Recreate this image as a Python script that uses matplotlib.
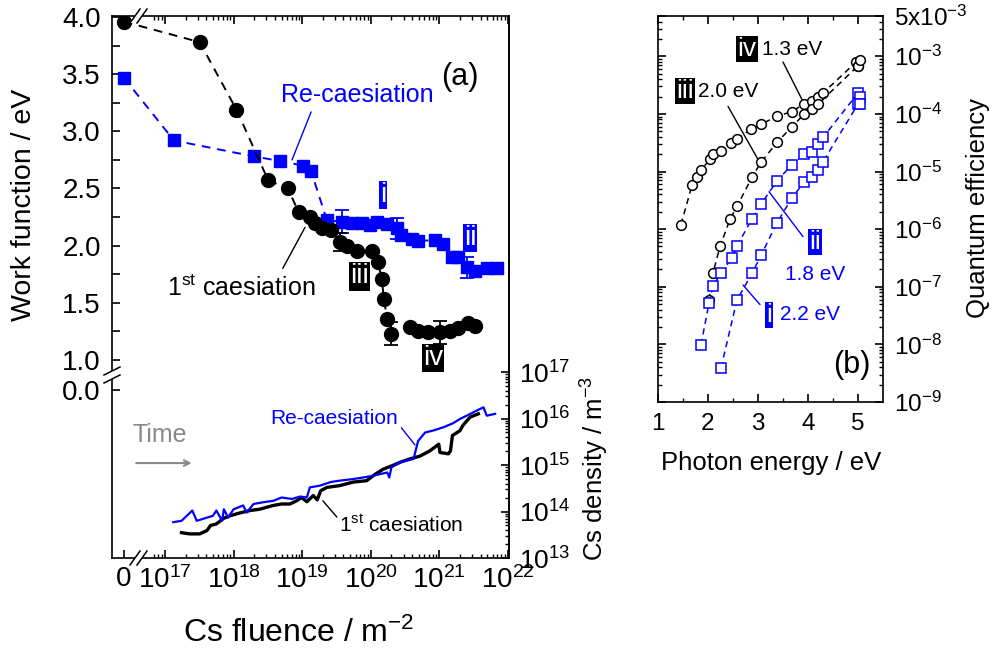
import numpy as np
import matplotlib
matplotlib.use("Agg")
import matplotlib.pyplot as plt
from matplotlib.ticker import FixedLocator, NullFormatter
from matplotlib.lines import Line2D
from matplotlib.patches import Polygon

plt.rcParams['font.family'] = 'Liberation Sans'
plt.rcParams['mathtext.fontset'] = 'custom'
plt.rcParams['mathtext.rm'] = 'Liberation Sans'
plt.rcParams['mathtext.it'] = 'Liberation Sans:italic'
plt.rcParams['mathtext.bf'] = 'Liberation Sans:bold'

BLUE = '#0000ff'
W, H = 992, 654
ZERO = 2.5e16      # where fluence "0" is drawn, left of the axis break
WF_ZERO = 0.737    # where work function "0.0" is drawn, below the axis break

# ---- (a) work function vs Cs fluence ----
fl_first = [0, 3.2e17, 1.1e18, 3.2e18, 6.2e18, 8.9e18, 1.3e19, 1.55e19, 1.95e19, 2.6e19,
            3.5e19, 4.5e19, 6.3e19, 1.05e20, 1.26e20, 1.45e20, 1.55e20, 1.74e20, 2.0e20,
            3.7e20, 4.9e20, 6.8e20, 1.02e21, 1.41e21, 1.86e21, 2.6e21, 3.3e21]
wf_first = [3.96, 3.78, 3.19, 2.57, 2.50, 2.29, 2.25, 2.20, 2.15, 2.14,
            2.03, 2.00, 1.95, 1.95, 1.86, 1.71, 1.53, 1.36, 1.23,
            1.29, 1.25, 1.24, 1.24, 1.25, 1.28, 1.32, 1.30]
err_fl_first = [3.5e19, 2.0e20, 1.02e21]
err_wf_first = [2.03, 1.23, 1.24]
err_first = [0.08, 0.10, 0.10]

fl_re = [0, 1.35e17, 2.0e18, 4.8e18, 1.02e19, 1.35e19, 2.3e19, 3.8e19, 5.4e19, 7.4e19,
         9.8e19, 1.23e20, 1.74e20, 2.4e20, 2.8e20, 4.0e20, 4.9e20, 8.7e20, 1.12e21,
         1.51e21, 1.86e21, 2.5e21, 3.3e21, 4.9e21, 6.9e21]
wf_re = [3.47, 2.92, 2.78, 2.74, 2.70, 2.65, 2.22, 2.21, 2.20, 2.20,
         2.18, 2.21, 2.19, 2.15, 2.09, 2.06, 2.04, 2.05, 2.01,
         1.90, 1.90, 1.81, 1.78, 1.80, 1.80]
err_fl_re = [3.8e19, 2.4e20, 2.5e21]
err_wf_re = [2.21, 2.15, 1.81]
err_re = [0.10, 0.09, 0.09]

# Cs density traces
cs_fl_first = [1.74e17, 2.3e17, 3.2e17, 4.1e17, 4.6e17, 5.6e17, 7.1e17, 8.9e17, 1.23e18, 1.74e18,
               2.4e18, 3.0e18, 3.8e18, 5.0e18, 6.6e18, 8.3e18, 9.8e18, 1.17e19, 1.45e19, 1.66e19,
               1.86e19, 2.3e19, 3.5e19, 5.6e19, 8.7e19, 1.1e20, 1.51e20, 2.1e20, 2.7e20, 3.7e20,
               5.2e20, 7.2e20, 9.8e20, 1.02e21, 1.35e21, 1.45e21, 1.55e21, 2.0e21, 2.2e21, 2.8e21,
               3.7e21]
cs_n_first = [3.5e13, 3.3e13, 3.3e13, 3.9e13, 5.0e13, 5.4e13, 7.1e13, 8.1e13, 9.3e13, 1.05e14,
              1.12e14, 1.23e14, 1.35e14, 1.45e14, 1.45e14, 1.7e14, 2.0e14, 1.62e14, 2.2e14, 1.78e14,
              2.8e14, 3.3e14, 3.6e14, 4.3e14, 4.6e14, 6.0e14, 8.1e14, 9.8e14, 1.15e15, 1.35e15,
              1.55e15, 2.0e15, 2.8e15, 1.86e15, 1.74e15, 2.0e15, 4.3e15, 5.5e15, 7.1e15, 1.07e16,
              1.26e16]

cs_fl_re = [1.32e17, 1.74e17, 2.5e17, 2.9e17, 4.1e17, 5.0e17, 5.6e17, 6.8e17, 7.2e17, 8.3e17,
            1.0e18, 1.38e18, 1.55e18, 1.95e18, 2.7e18, 3.8e18, 5.0e18, 7.1e18, 9.3e18, 1.17e19,
            1.29e19, 1.82e19, 2.6e19, 3.5e19, 5.6e19, 7.8e19, 1.1e20, 1.45e20, 1.74e20, 1.86e20,
            2.0e20, 2.7e20, 4.2e20, 4.9e20, 6.2e20, 8.1e20, 1.15e21, 1.58e21, 2.0e21, 2.5e21,
            3.5e21, 4.4e21, 4.9e21, 6.5e21]
cs_n_re = [5.9e13, 6.3e13, 1.05e14, 6.3e13, 7.4e13, 8.1e13, 1.05e14, 6.3e13, 1.12e14, 7.4e13,
           1.12e14, 1.35e14, 9.5e13, 1.45e14, 1.58e14, 1.7e14, 2.0e14, 1.86e14, 2.1e14, 2.0e14,
           3.3e14, 3.6e14, 4.3e14, 4.6e14, 5.0e14, 5.4e14, 5.9e14, 6.5e14, 6.9e14, 5.4e14,
           8.9e14, 1.15e15, 1.35e15, 3.3e15, 5.0e15, 5.5e15, 6.5e15, 7.9e15, 9.8e15, 1.15e16,
           1.48e16, 1.74e16, 1.15e16, 1.26e16]

# ---- (b) quantum efficiency vs photon energy ----
e_iv = [1.46, 1.68, 1.78, 1.86, 2.04, 2.10, 2.26, 2.46, 2.58, 2.86, 3.06, 3.38, 3.68, 3.92,
        4.08, 4.20, 4.30, 4.96, 5.00]
qe_iv = [1.2e-6, 5.8e-6, 7.9e-6, 1.07e-5, 1.62e-5, 2.0e-5, 2.3e-5, 3.1e-5, 3.7e-5, 5.4e-5,
         6.6e-5, 9.1e-5, 1.1e-4, 1.5e-4, 1.7e-4, 1.95e-4, 2.3e-4, 7.9e-4, 6.9e-4]
e_iii = [2.02, 2.10, 2.24, 2.44, 2.58, 2.88, 3.06, 3.38, 3.68, 3.92, 4.08, 4.20, 5.00, 5.04]
qe_iii = [5.9e-8, 1.74e-7, 5.0e-7, 1.48e-6, 2.5e-6, 7.9e-6, 1.45e-5, 3.2e-5, 6.0e-5, 9.8e-5,
          1.2e-4, 1.48e-4, 6.8e-4, 8.5e-4]
e_ii = [1.86, 2.02, 2.10, 2.26, 2.48, 2.58, 2.88, 3.06, 3.38, 3.68, 3.92, 4.08, 4.20, 4.30,
        5.00, 5.04]
qe_ii = [9.8e-9, 5.2e-8, 1.05e-7, 1.7e-7, 3.2e-7, 5.1e-7, 1.51e-6, 2.7e-6, 6.9e-6, 1.32e-5,
         2.0e-5, 2.2e-5, 2.95e-5, 3.9e-5, 2.3e-4, 2.0e-4]
e_i = [2.26, 2.58, 2.88, 3.06, 3.38, 3.68, 3.92, 4.08, 4.20, 4.30, 5.00, 5.04]
qe_i = [3.9e-9, 5.9e-8, 1.7e-7, 3.5e-7, 1.29e-6, 3.5e-6, 6.5e-6, 7.9e-6, 1.07e-5, 1.48e-5,
        1.48e-4, 1.48e-4]


def sup(base, exp):
    return r'%s$^{\mathregular{%s}}$' % (base, exp)


def fpos(x, y):
    return x / W, 1 - y / H


def tag(axis, x, y, s, color, size=20):
    axis.text(x, y, s, color='white', fontsize=size, ha='center', va='center',
              bbox=dict(boxstyle='square,pad=0.04', fc=color, ec='none'))


def leader(axis, xy1, xy2, color):
    axis.annotate('', xy=xy2, xytext=xy1,
                  arrowprops=dict(arrowstyle='-', color=color, lw=1.0, shrinkA=0, shrinkB=0))


def axis_break(fig, xc, yc, vertical):
    # two parallel slashes with a white gap in the spine between them (pixel coords)
    if vertical:
        c1, c2 = (xc, yc - 4), (xc, yc + 4)
        d = (8, -4)
    else:
        c1, c2 = (xc - 3.5, yc), (xc + 3.5, yc)
        d = (5, -7)
    pts = [(c1[0] - d[0], c1[1] - d[1]), (c1[0] + d[0], c1[1] + d[1]),
           (c2[0] + d[0], c2[1] + d[1]), (c2[0] - d[0], c2[1] - d[1])]
    fig.add_artist(Polygon([fpos(*p) for p in pts], closed=True, fc='white', ec='none',
                           transform=fig.transFigure, zorder=10))
    for c in (c1, c2):
        p, q = fpos(c[0] - d[0], c[1] - d[1]), fpos(c[0] + d[0], c[1] + d[1])
        fig.add_artist(Line2D([p[0], q[0]], [p[1], q[1]], color='black', lw=1.1,
                              transform=fig.transFigure, zorder=11))


fig = plt.figure(figsize=(9.92, 6.54), dpi=100)

# ---------------- panel (a) ----------------
ax = fig.add_axes([112 / W, 1 - 558 / H, (509 - 112) / W, (558 - 16) / H])
ax.set_xscale('log')
ax.set_xlim(10 ** 16.227, 10 ** 22.015)
ax.set_ylim(-0.733, 4.009)

to_x = lambda f: np.where(np.array(f) == 0, ZERO, np.array(f, dtype=float))

ax.plot(to_x(fl_first), wf_first, color='black', marker='o', ms=10, lw=1.4,
        ls=(0, (4.5, 3.5)), zorder=3)
ax.errorbar(err_fl_first, err_wf_first, yerr=err_first, fmt='none', ecolor='black',
            elinewidth=1.3, capsize=5, capthick=1.3, zorder=3)
ax.plot(to_x(fl_re), wf_re, color=BLUE, marker='s', ms=8, lw=1.4,
        ls=(0, (4.5, 3.5)), zorder=2)
ax.errorbar(err_fl_re, err_wf_re, yerr=err_re, fmt='none', ecolor=BLUE,
            elinewidth=1.3, capsize=5, capthick=1.3, zorder=2)

xmaj = [ZERO] + [10.0 ** e for e in range(17, 23)]
ax.xaxis.set_major_locator(FixedLocator(xmaj))
ax.set_xticklabels(['0'] + [sup('10', e) for e in range(17, 23)])
xmin = [k * 10.0 ** e for e in range(16, 22) for k in range(2, 10)]
ax.xaxis.set_minor_locator(FixedLocator([v for v in xmin if 6.5e16 < v < 10 ** 22.01]))
ax.xaxis.set_minor_formatter(NullFormatter())

ax.yaxis.set_major_locator(FixedLocator([WF_ZERO] + list(np.arange(1.0, 4.01, 0.5))))
ax.set_yticklabels(['0.0', '1.0', '1.5', '2.0', '2.5', '3.0', '3.5', '4.0'])
ax.yaxis.set_minor_locator(FixedLocator(list(np.arange(1.25, 4.0, 0.5))))

ax.tick_params(axis='x', which='both', direction='in', top=True, bottom=True,
               labelsize=20, pad=6)
ax.tick_params(axis='x', which='major', length=6, width=1.2)
ax.tick_params(axis='x', which='minor', length=3, width=1.0)
ax.tick_params(axis='y', which='both', direction='in', left=True, right=False,
               length=6, width=1.2, labelsize=20, pad=8)
for s in ax.spines.values():
    s.set_linewidth(1.2)

ax2 = ax.twinx()
ax2.set_yscale('log')
ax2.set_ylim(1e13, 10 ** 24.656)
ax2.plot(cs_fl_first, cs_n_first, color='black', lw=2.4)
ax2.plot(cs_fl_re, cs_n_re, color=BLUE, lw=1.6)
ax2.yaxis.set_major_locator(FixedLocator([10.0 ** e for e in range(13, 18)]))
ax2.set_yticklabels([sup('10', e) for e in range(13, 18)])
ax2.yaxis.set_minor_locator(FixedLocator([k * 10.0 ** e for e in range(13, 17) for k in range(2, 10)]))
ax2.yaxis.set_minor_formatter(NullFormatter())
ax2.tick_params(axis='y', which='both', direction='in', right=True, labelsize=19, pad=7)
ax2.tick_params(axis='y', which='major', length=6, width=1.2)
ax2.tick_params(axis='y', which='minor', length=3, width=1.0)
for k in ('top', 'left', 'bottom'):
    ax2.spines[k].set_visible(False)
ax2.spines['right'].set_linewidth(1.2)

# annotations, work function part
ax.text(6.3e19, 3.32, 'Re-caesiation', color=BLUE, fontsize=18, ha='center', va='center')
leader(ax, (1.35e19, 3.17), (7.1e18, 2.75), BLUE)
ax.text(1.3e18, 1.63, sup('1', 'st') + ' caesiation', fontsize=18, ha='center', va='center')
leader(ax, (5.2e18, 1.80), (1.1e19, 2.16), 'black')
ax.text(2.0e21, 3.475, '(a)', fontsize=22, ha='center', va='center')
tag(ax, 1.5e20, 2.44, 'i', BLUE)
tag(ax, 2.8e21, 2.07, 'ii', BLUE)
tag(ax, 6.8e19, 1.73, 'iii', 'black')
tag(ax, 8.1e20, 1.02, 'iv', 'black')

# annotations, Cs density part
ax2.text(2.9e19, 1.0e16, 'Re-caesiation', color=BLUE, fontsize=15, ha='center', va='center')
leader(ax2, (2.8e20, 6.3e15), (4.4e20, 2.7e15), BLUE)
ax2.text(2.8e20, 5.1e13, sup('1', 'st') + ' caesiation', fontsize=15, ha='center', va='center')
leader(ax2, (2.0e19, 1.7e14), (3.2e19, 7.6e13), 'black')
ax2.text(8.5e16, 4.5e15, 'Time', color='#888888', fontsize=18, ha='center', va='center')
ax2.annotate('', xy=(2.45e17, 1.1e15), xytext=(3.8e16, 1.1e15),
             arrowprops=dict(arrowstyle='->', color='#888888', lw=1.5, shrinkA=0, shrinkB=0))

# axis breaks
axis_break(fig, 112, 375, vertical=True)
axis_break(fig, 138.5, 558, vertical=False)
axis_break(fig, 138.5, 16, vertical=False)

fig.text(*fpos(24, 205), 'Work function / eV', rotation=90, fontsize=20.5, ha='center', va='center')
fig.text(*fpos(299, 633), 'Cs fluence / m' + r'$^{\mathregular{-2}}$', fontsize=23,
         ha='center', va='center')
fig.text(*fpos(595, 468), 'Cs density / m' + r'$^{\mathregular{-3}}$', rotation=90, fontsize=18.5,
         ha='center', va='center')

# ---------------- panel (b) ----------------
axb = fig.add_axes([658 / W, 1 - 402 / H, (883 - 658) / W, (402 - 16) / H])
axb.set_yscale('log')
axb.set_xlim(1, 5.5)
axb.set_ylim(1e-9, 5e-3)
dash = (0, (4, 3))
axb.plot(e_iv, qe_iv, color='black', marker='o', mfc='white', ms=7, mew=1.1, lw=1.1, ls=dash)
axb.plot(e_iii, qe_iii, color='black', marker='o', mfc='white', ms=7, mew=1.1, lw=1.1, ls=dash)
axb.plot(e_ii, qe_ii, color=BLUE, marker='s', mfc='white', ms=6.5, mew=1.1, lw=1.1, ls=dash)
axb.plot(e_i, qe_i, color=BLUE, marker='s', mfc='white', ms=6.5, mew=1.1, lw=1.1, ls=dash)

axb.xaxis.set_major_locator(FixedLocator([1, 2, 3, 4, 5]))
axb.xaxis.set_minor_locator(FixedLocator([1.5, 2.5, 3.5, 4.5]))
ymaj = [10.0 ** e for e in range(-9, -2)] + [5e-3]
axb.yaxis.set_major_locator(FixedLocator(ymaj))
axb.set_yticklabels([sup('10', '%d' % e) for e in range(-9, -2)] + [sup('5x10', '-3')])
axb.yaxis.set_minor_locator(FixedLocator([k * 10.0 ** e for e in range(-9, -2) for k in range(2, 10)
                                          if k * 10.0 ** e < 5e-3]))
axb.yaxis.set_minor_formatter(NullFormatter())
axb.tick_params(axis='both', which='both', direction='in', top=True, bottom=True,
                left=True, right=True, labelleft=False, labelright=True, labelsize=17.5)
axb.tick_params(axis='both', which='major', length=6, width=1.2, pad=8)
axb.tick_params(axis='both', which='minor', length=3, width=1.0)
for s in axb.spines.values():
    s.set_linewidth(1.2)

tag(axb, 2.78, 10 ** -2.88, 'iv', 'black', 19)
axb.text(3.08, 10 ** -2.88, '1.3 eV', fontsize=15, ha='left', va='center')
leader(axb, (3.50, 10 ** -3.10), (3.88, 10 ** -3.75), 'black')
tag(axb, 1.54, 10 ** -3.61, 'iii', 'black', 19)
axb.text(1.80, 10 ** -3.61, '2.0 eV', fontsize=15, ha='left', va='center')
leader(axb, (2.40, 10 ** -3.87), (3.00, 10 ** -4.79), 'black')
tag(axb, 4.14, 10 ** -6.23, 'ii', BLUE, 19)
axb.text(4.14, 10 ** -6.78, '1.8 eV', color=BLUE, fontsize=15, ha='center', va='center')
leader(axb, (3.22, 10 ** -5.35), (3.90, 10 ** -6.13), BLUE)
tag(axb, 3.22, 10 ** -7.49, 'i', BLUE, 19)
axb.text(3.44, 10 ** -7.49, '2.2 eV', color=BLUE, fontsize=15, ha='left', va='center')
leader(axb, (2.70, 10 ** -6.97), (3.04, 10 ** -7.31), BLUE)
axb.text(4.88, 10 ** -8.36, '(b)', fontsize=22, ha='center', va='center')

fig.text(*fpos(771, 463), 'Photon energy / eV', fontsize=18.5, ha='center', va='center')
fig.text(*fpos(978, 208), 'Quantum efficiency', rotation=90, fontsize=18.5, ha='center', va='center')

fig.savefig('out.png', dpi=100)
